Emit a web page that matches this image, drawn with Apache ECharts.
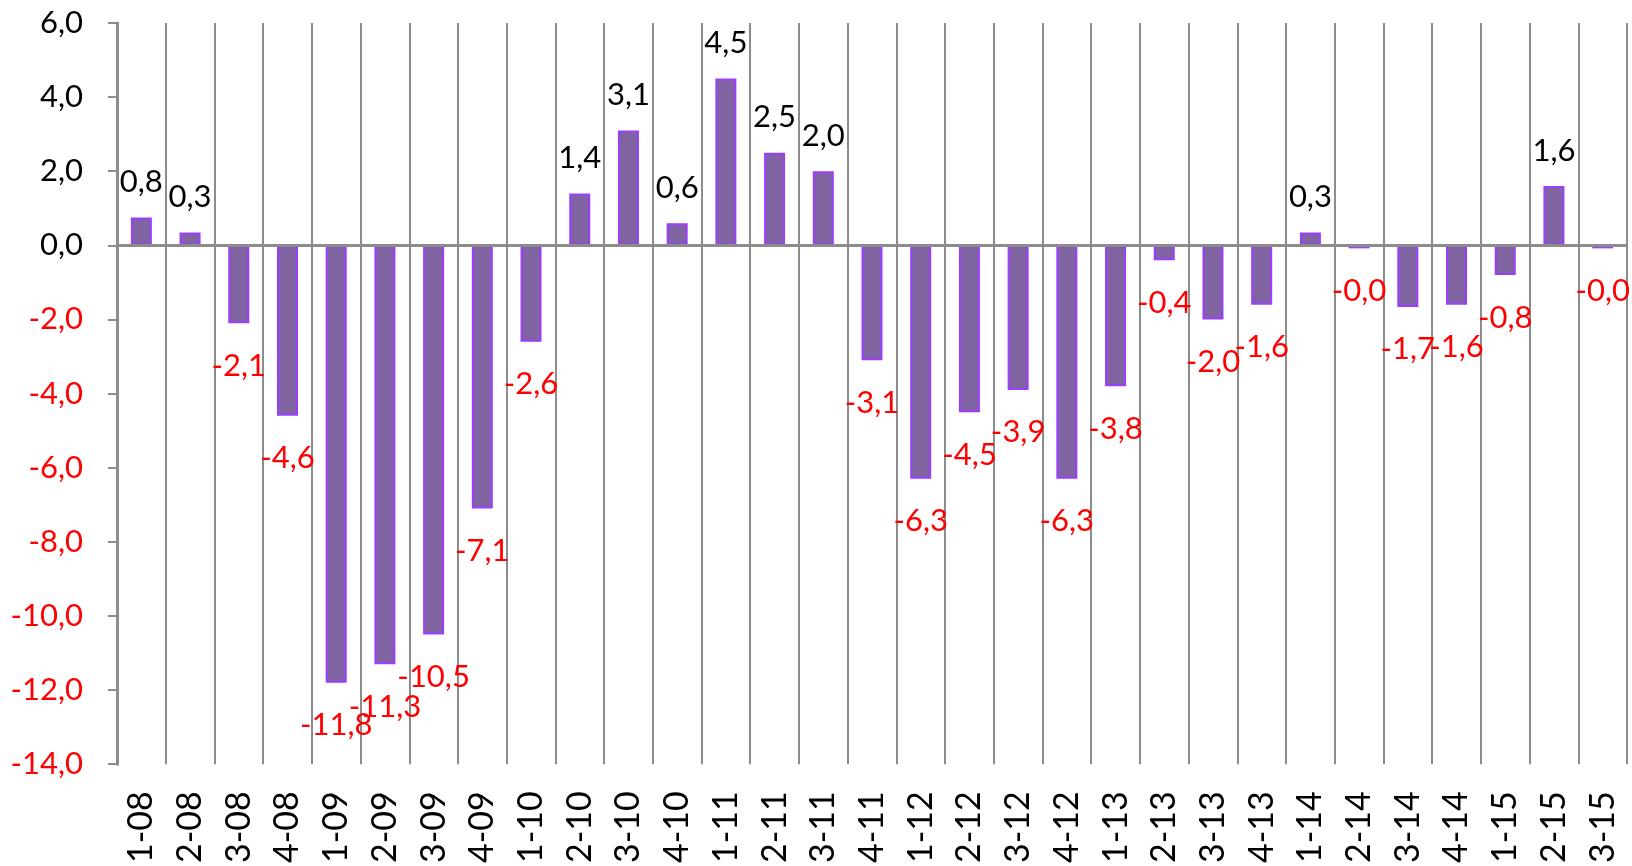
<!DOCTYPE html>
<html>
<head>
<meta charset="utf-8">
<script src="https://cdn.jsdelivr.net/npm/echarts@6/dist/echarts.min.js"></script>
<style>
  html, body { margin: 0; padding: 0; background: #fff; }
  #chart { width: 1632px; height: 866px; }
</style>
</head>
<body>
<div id="chart"></div>
<script>
const quarters = ['1-08', '2-08', '3-08', '4-08', '1-09', '2-09', '3-09', '4-09', '1-10', '2-10', '3-10', '4-10',
  '1-11', '2-11', '3-11', '4-11', '1-12', '2-12', '3-12', '4-12', '1-13', '2-13', '3-13', '4-13',
  '1-14', '2-14', '3-14', '4-14', '1-15', '2-15', '3-15'];
const changes = [0.75, 0.35, -2.1, -4.6, -11.8, -11.3, -10.5, -7.1, -2.6, 1.4, 3.1, 0.6,
  4.5, 2.5, 2.0, -3.1, -6.3, -4.5, -3.9, -6.3, -3.8, -0.4, -2.0, -1.6,
  0.35, -0.049, -1.66, -1.6, -0.8, 1.6, -0.049];
const yTicks = { min: -14, max: 6, step: 2 };

const FONT = 'Lato';
const FS = 31;
const fmt = v => v.toFixed(1).replace('.', ',');

const chart = echarts.init(document.getElementById('chart'));

const option = {
  animation: false,
  grid: { left: 117, right: 5, top: 23, bottom: 98 },
  xAxis: {
    type: 'category',
    data: quarters,
    boundaryGap: true,
    axisLine: { show: false },
    axisTick: { show: false },
    axisLabel: {
      rotate: 90,
      interval: 0,
      margin: 27,
      color: '#000',
      fontFamily: FONT,
      fontSize: 34
    },
    splitLine: {
      show: true,
      interval: 0,
      lineStyle: { color: '#8c8c8c', width: 2 }
    }
  },
  yAxis: {
    type: 'value',
    min: yTicks.min,
    max: yTicks.max,
    interval: yTicks.step,
    axisLine: { show: true, lineStyle: { color: '#8c8c8c', width: 3 } },
    axisTick: { show: true, length: 9, lineStyle: { color: '#8c8c8c', width: 2 } },
    splitLine: { show: false },
    axisLabel: {
      margin: 34,
      fontFamily: FONT,
      fontSize: FS,
      formatter: v => (v < 0 ? '{n|' : '{p|') + fmt(v) + '}',
      rich: {
        p: { color: '#000', fontFamily: FONT, fontSize: FS },
        n: { color: '#ff0000', fontFamily: FONT, fontSize: FS }
      }
    }
  },
  series: [{
    type: 'bar',
    barWidth: 21,
    barMinHeight: 3,
    data: changes.map(v => ({
      value: v,
      label: {
        position: v < 0 ? 'bottom' : 'top',
        distance: v < 0 ? 27 : 20,
        color: v < 0 ? '#ff0000' : '#000'
      }
    })),
    itemStyle: { color: '#8064a2', borderColor: '#9b3dff', borderWidth: 2 },
    label: {
      show: true,
      fontFamily: FONT,
      fontSize: FS,
      formatter: p => fmt(p.value)
    },
    markLine: {
      silent: true,
      symbol: 'none',
      label: { show: false },
      lineStyle: { color: '#8c8c8c', width: 3, type: 'solid' },
      data: [{ yAxis: 0 }]
    }
  }]
};

chart.setOption(option);
</script>
</body>
</html>
